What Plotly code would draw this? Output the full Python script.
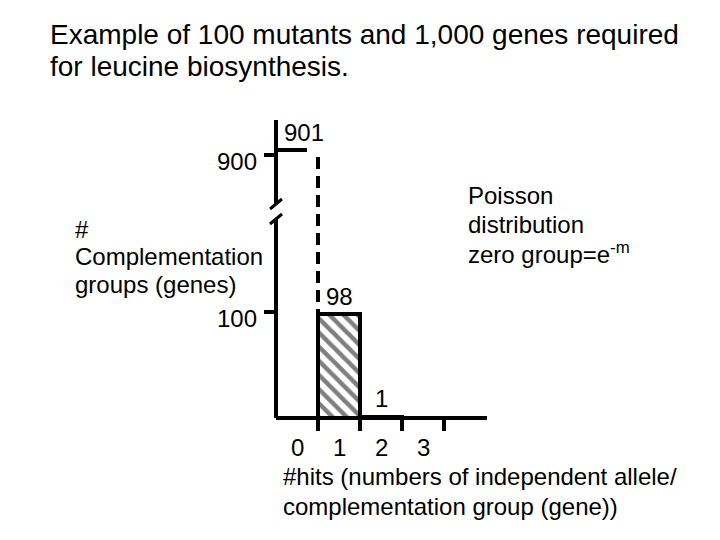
import plotly.graph_objects as go

# ---- data ----
hits = [0, 1, 2, 3]                      # number of hits per gene
groups = [901, 98, 1]                    # genes with 0, 1, 2 hits
tick_labels = ["0", "1", "2", "3"]
y_tick_values = [100, 900]
title_lines = ["Example of 100 mutants and 1,000 genes required",
               "for leucine biosynthesis."]
y_label_lines = ["#", "Complementation", "groups (genes)"]
x_label_lines = ["#hits (numbers of independent allele/",
                 "complementation group (gene))"]
note_lines = ["Poisson", "distribution", "zero group=e<sup>-m</sup>"]

FONT = "Liberation Sans, Arial, sans-serif"

# page body has an 8px margin -> figure is offset by 8px
OFF = 8
FIG_W, FIG_H = 720 - 2 * OFF, 540 - 2 * OFF

# plot area in window pixels
L, R, T, B = 276, 487, 120, 418
W, H = R - L, B - T


def px_x(px):
    return (px - L) / W


def px_y(py):
    return (B - py) / H


def brk(v):
    """broken y scale: 0..~200 linear, then a jump to the 900 region"""
    if v < 500:
        return v * 1.06
    return 263 + (v - 900) * 5


fig = go.Figure()

# zero-hit class (901) drawn dashed, unfilled: top edge and right edge
x0 = hits[0]
fig.add_trace(go.Scatter(
    x=[x0 - 0.5, x0 + 0.5],
    y=[brk(groups[0]), brk(groups[0])],
    mode="lines", line=dict(color="black", width=4, dash="31px,20px"),
    hoverinfo="skip", showlegend=False))
fig.add_trace(go.Scatter(
    x=[x0 + 0.5, x0 + 0.5],
    y=[brk(groups[0]), brk(groups[1])],
    mode="lines", line=dict(color="black", width=4, dash="0px,7px,12px,0px"),
    hoverinfo="skip", showlegend=False))

# observed classes as hatched bars
fig.add_trace(go.Bar(
    x=hits[1:3], y=[brk(v) for v in groups[1:3]], width=1,
    marker=dict(color="white",
                line=dict(color="black", width=4),
                pattern=dict(shape=["\\", "/"], fgcolor="black",
                             bgcolor="white", size=10, solidity=0.45)),
    showlegend=False, hoverinfo="skip"))

shapes = []
# x axis line
shapes.append(dict(type="line", xref="paper", yref="paper", x0=0, x1=1,
                   y0=0, y1=0, line=dict(color="black", width=4)))
# y axis with a break
shapes.append(dict(type="line", xref="paper", yref="paper", x0=0, x1=0,
                   y0=0, y1=px_y(219), line=dict(color="black", width=4)))
shapes.append(dict(type="line", xref="paper", yref="paper", x0=0, x1=0,
                   y0=px_y(204), y1=1, line=dict(color="black", width=4)))
for cy in (204, 219):
    shapes.append(dict(type="line", xref="paper", yref="paper",
                       x0=px_x(270), x1=px_x(282),
                       y0=px_y(cy + 5), y1=px_y(cy - 5),
                       line=dict(color="black", width=3)))

ann = []


def text(t, x, y, xanchor="left", size=24, **kw):
    ann.append(dict(text=t, x=x, y=y, xref=kw.pop("xref", "paper"),
                    yref=kw.pop("yref", "paper"), xanchor=xanchor,
                    yanchor="middle", showarrow=False,
                    font=dict(family=FONT, size=size, color="black"), **kw))


for i, line in enumerate(title_lines):
    text(line, px_x(48), px_y(34 + 33 * i), size=28)
for line, cy in zip(y_label_lines, [229, 256, 284]):
    text(line, px_x(73), px_y(cy))
for i, line in enumerate(note_lines):
    text(line, px_x(466), px_y(195 + 29 * i))
for i, line in enumerate(x_label_lines):
    text(line, px_x(281), px_y(476 + 30 * i))

# x tick labels centred in the bins
for h, lab in zip(hits, tick_labels):
    text(lab, h, px_y(447), xanchor="center", xref="x")

# y tick labels (slightly below their ticks)
for v in y_tick_values:
    text(str(v), px_x(259), brk(v), xanchor="right", yref="y", yshift=-6)

# value labels above the classes
for h, v in zip(hits, groups):
    text(str(v), h, brk(v), xanchor="center", xref="x", yref="y",
         yshift=18, xshift=7 if h == 0 else 0)

fig.update_layout(
    width=FIG_W, height=FIG_H,
    margin=dict(l=L - OFF, r=FIG_W - (R - OFF), t=T - OFF,
                b=FIG_H - (B - OFF), pad=0),
    paper_bgcolor="white", plot_bgcolor="white",
    bargap=0,
    xaxis=dict(range=[-0.5, -0.5 + W / 42], showgrid=False, zeroline=False,
               showline=False, tickvals=[0.5, 1.5, 2.5, 3.5],
               showticklabels=False, ticks="outside", ticklen=12,
               tickwidth=4, tickcolor="black"),
    yaxis=dict(range=[0, H], showgrid=False, zeroline=False, showline=False,
               tickvals=[brk(v) for v in y_tick_values],
               showticklabels=False, ticks="outside", ticklen=11,
               tickwidth=4, tickcolor="black"),
    shapes=shapes, annotations=ann,
)

fig.write_html("out.html")
